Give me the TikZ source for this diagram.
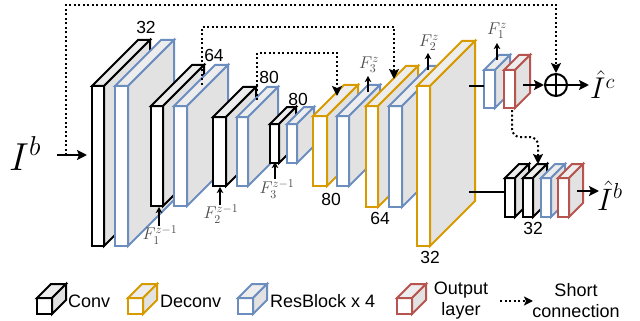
\RequirePackage{fix-cm}
\documentclass[tikz,border=0pt]{standalone}
\usepackage{fontspec}
\setsansfont{Liberation Sans}
\usetikzlibrary{arrows.meta}
\definecolor{cblk}{HTML}{000000}
\definecolor{corg}{HTML}{D79B00}
\definecolor{cblu}{HTML}{6C8EBF}
\definecolor{cred}{HTML}{B85450}
\definecolor{ftop}{HTML}{EDEDED}
\definecolor{fside}{HTML}{E2E2E2}
\newcommand\blockbox[6]{%
 \fill[white] (#2,#3) rectangle ({#2+#4},{#3+#5});
 \filldraw[fill=ftop,draw=#1,boxline] (#2,#3) -- ({#2+#6},{#3-#6}) -- ({#2+#4+#6},{#3-#6}) -- ({#2+#4},#3) -- cycle;
 \filldraw[fill=fside,draw=#1,boxline] ({#2+#4},#3) -- ({#2+#4+#6},{#3-#6}) -- ({#2+#4+#6},{#3+#5-#6}) -- ({#2+#4},{#3+#5}) -- cycle;
 \draw[#1,boxline] (#2,#3) rectangle ({#2+#4},{#3+#5});
}
\tikzset{
 boxline/.style={line width=2pt},
 lbl/.style={font=\sffamily\fontsize{17.5}{18}\selectfont, inner sep=0pt},
 leg/.style={font=\sffamily\fontsize{18}{21}\selectfont, inner sep=0pt, align=center},
 flbl/.style={font=\fontsize{17}{17}\selectfont, text=black!70, inner sep=0pt},
 arr/.style={line width=2pt, -{Stealth[length=10pt,width=10pt,inset=2pt]}},
 farr/.style={line width=1.8pt, -{Stealth[length=6pt,width=6.5pt,inset=1.5pt]}},
 dotline/.style={line width=2pt, dash pattern=on 2pt off 2.5pt},
 dotarr/.style={dotline, -{Stealth[length=10pt,width=10pt,inset=2pt]}},
}
\begin{document}
\begin{tikzpicture}[x=1pt,y=-1pt]
\useasboundingbox (0,0) rectangle (640,321);
% encoder
\blockbox{cblk}{92}{86}{12}{160}{46}
\blockbox{cblu}{115}{86}{13}{160}{46}
\blockbox{cblk}{151}{106}{12}{100}{41}
\blockbox{cblu}{174}{106}{13}{100}{41}
\blockbox{cblk}{213}{117}{13}{69}{30}
\blockbox{cblu}{237}{117}{11}{69}{30}
\blockbox{cblk}{270}{124}{9}{39}{17}
\blockbox{cblu}{287}{124}{10}{39}{17}
% decoder
\blockbox{corg}{313}{116}{14}{70}{31}
\blockbox{cblu}{337}{116}{12}{70}{31}
\blockbox{corg}{366}{106}{12}{101}{40}
\blockbox{cblu}{389}{106}{13}{101}{40}
\blockbox{corg}{417}{86}{13}{160}{45}
% top branch
\blockbox{cblu}{484}{70}{11}{38}{15}
\blockbox{cred}{504}{70}{11}{38}{15}
% bottom branch
\blockbox{cblk}{505}{178}{10}{39}{14}
\blockbox{cblk}{523}{178}{10}{39}{14}
\blockbox{cblu}{541}{178}{10}{39}{14}
\blockbox{cred}{558}{178}{11}{39}{14}

% input
\node[anchor=base west, inner sep=0pt, font=\fontsize{39}{39}\selectfont] (Ib) at (9,170) {$I^b$};
\coordinate (inS) at (57,155);
\coordinate (inE) at (87,155);
\draw[arr] (inS) -- (inE);

% plus
\node[circle, draw, line width=2pt, minimum size=22pt, inner sep=0pt] (plus) at (556,85) {};
\draw[line width=2pt] (plus.north) -- (plus.south) (plus.west) -- (plus.east);

% dotted connections
\coordinate (d1s) at (66,155);
\coordinate (d1c) at (556,5);
\draw[dotarr] (d1s) |- (d1c) -- (plus.north);
\coordinate (d2s) at (202,85);
\coordinate (d2c) at (394,27);
\coordinate (d2e) at (394,79);
\draw[dotarr] (d2s) |- (d2c) -- (d2e);
\coordinate (d3s) at (257,100);
\coordinate (d3c) at (337,53);
\coordinate (d3e) at (337,96);
\draw[dotarr] (d3s) |- (d3c) -- (d3e);
\coordinate (d4s) at (512,110);
\coordinate (d4a) at (512,137);
\coordinate (d4b) at (538,137);
\coordinate (d4e) at (538,164);
\draw[dotarr, rounded corners=8pt] (d4s) -- (d4a) -- (d4b) -- (d4e);

% solid connections
\coordinate (t1) at (469,86);
\coordinate (t2) at (484,86);
\draw[line width=2pt] (t1) -- (t2);
\coordinate (o1) at (523,85);
\draw[arr] (o1) -- (plus.west);
\node[anchor=base west, inner sep=0pt, font=\fontsize{30}{30}\selectfont] (Ic) at (590,99) {$\hat{I}^c$};
\coordinate (pe) at (589,85);
\draw[arr] (plus.east) -- (pe);
\coordinate (b1) at (469,192);
\coordinate (b2) at (505,192);
\draw[line width=2pt] (b1) -- (b2);
\coordinate (ob) at (577,191);
\coordinate (obe) at (599,191);
\draw[arr] (ob) -- (obe);
\node[anchor=base west, inner sep=0pt, font=\fontsize{31}{31}\selectfont] (Ibh) at (597,210) {$\hat{I}^b$};

% F labels
\coordinate (fa1) at (159,226); \coordinate (fa1e) at (159,207);
\draw[farr] (fa1) -- (fa1e);
\node[flbl] (F1m) at (160,235) {$F_1^{z-1}$};
\coordinate (fa2) at (220,205); \coordinate (fa2e) at (220,187);
\draw[farr] (fa2) -- (fa2e);
\node[flbl] (F2m) at (221,214) {$F_2^{z-1}$};
\coordinate (fa3) at (275,179); \coordinate (fa3e) at (275,162);
\draw[farr] (fa3) -- (fa3e);
\node[flbl] (F3m) at (277,189) {$F_3^{z-1}$};
\coordinate (fb3) at (368,92); \coordinate (fb3e) at (368,76);
\draw[farr] (fb3) -- (fb3e);
\node[flbl] (F3) at (369,65) {$F_3^z$};
\coordinate (fb2) at (428,70); \coordinate (fb2e) at (428,53);
\draw[farr] (fb2) -- (fb2e);
\node[flbl] (F2) at (429,43) {$F_2^z$};
\coordinate (fb1) at (497,60); \coordinate (fb1e) at (497,43);
\draw[farr] (fb1) -- (fb1e);
\node[flbl] (F1) at (497,31) {$F_1^z$};

% channel labels
\node[lbl] (n1) at (146,27) {32};
\node[lbl] (n2) at (214,55) {64};
\node[lbl] (n3) at (269,77) {80};
\node[lbl] (n4) at (298,99) {80};
\node[lbl] (n5) at (331,199) {80};
\node[lbl] (n6) at (380,218) {64};
\node[lbl] (n7) at (430,257) {32};
\node[lbl] (n8) at (533,228) {32};

% legend
\blockbox{cblk}{37}{298}{15}{16}{14}
\node[leg, anchor=west] (lc) at (68,301) {Conv};
\blockbox{corg}{128}{298}{15}{16}{14}
\node[leg, anchor=west] (ld) at (160,301) {Deconv};
\blockbox{cblu}{238}{298}{15}{16}{14}
\node[leg, anchor=west] (lr) at (270,301) {ResBlock x 4};
\blockbox{cred}{397}{298}{15}{16}{14}
\node[leg] (lo) at (461,301) {Output\\layer};
\coordinate (ls) at (500,301);
\coordinate (le) at (533,301);
\draw[dotline, -{Stealth[length=9pt,width=9pt,inset=2pt]}] (ls) -- (le);
\node[leg] (lsc) at (576,301) {Short\\connection};
\end{tikzpicture}
\end{document}
